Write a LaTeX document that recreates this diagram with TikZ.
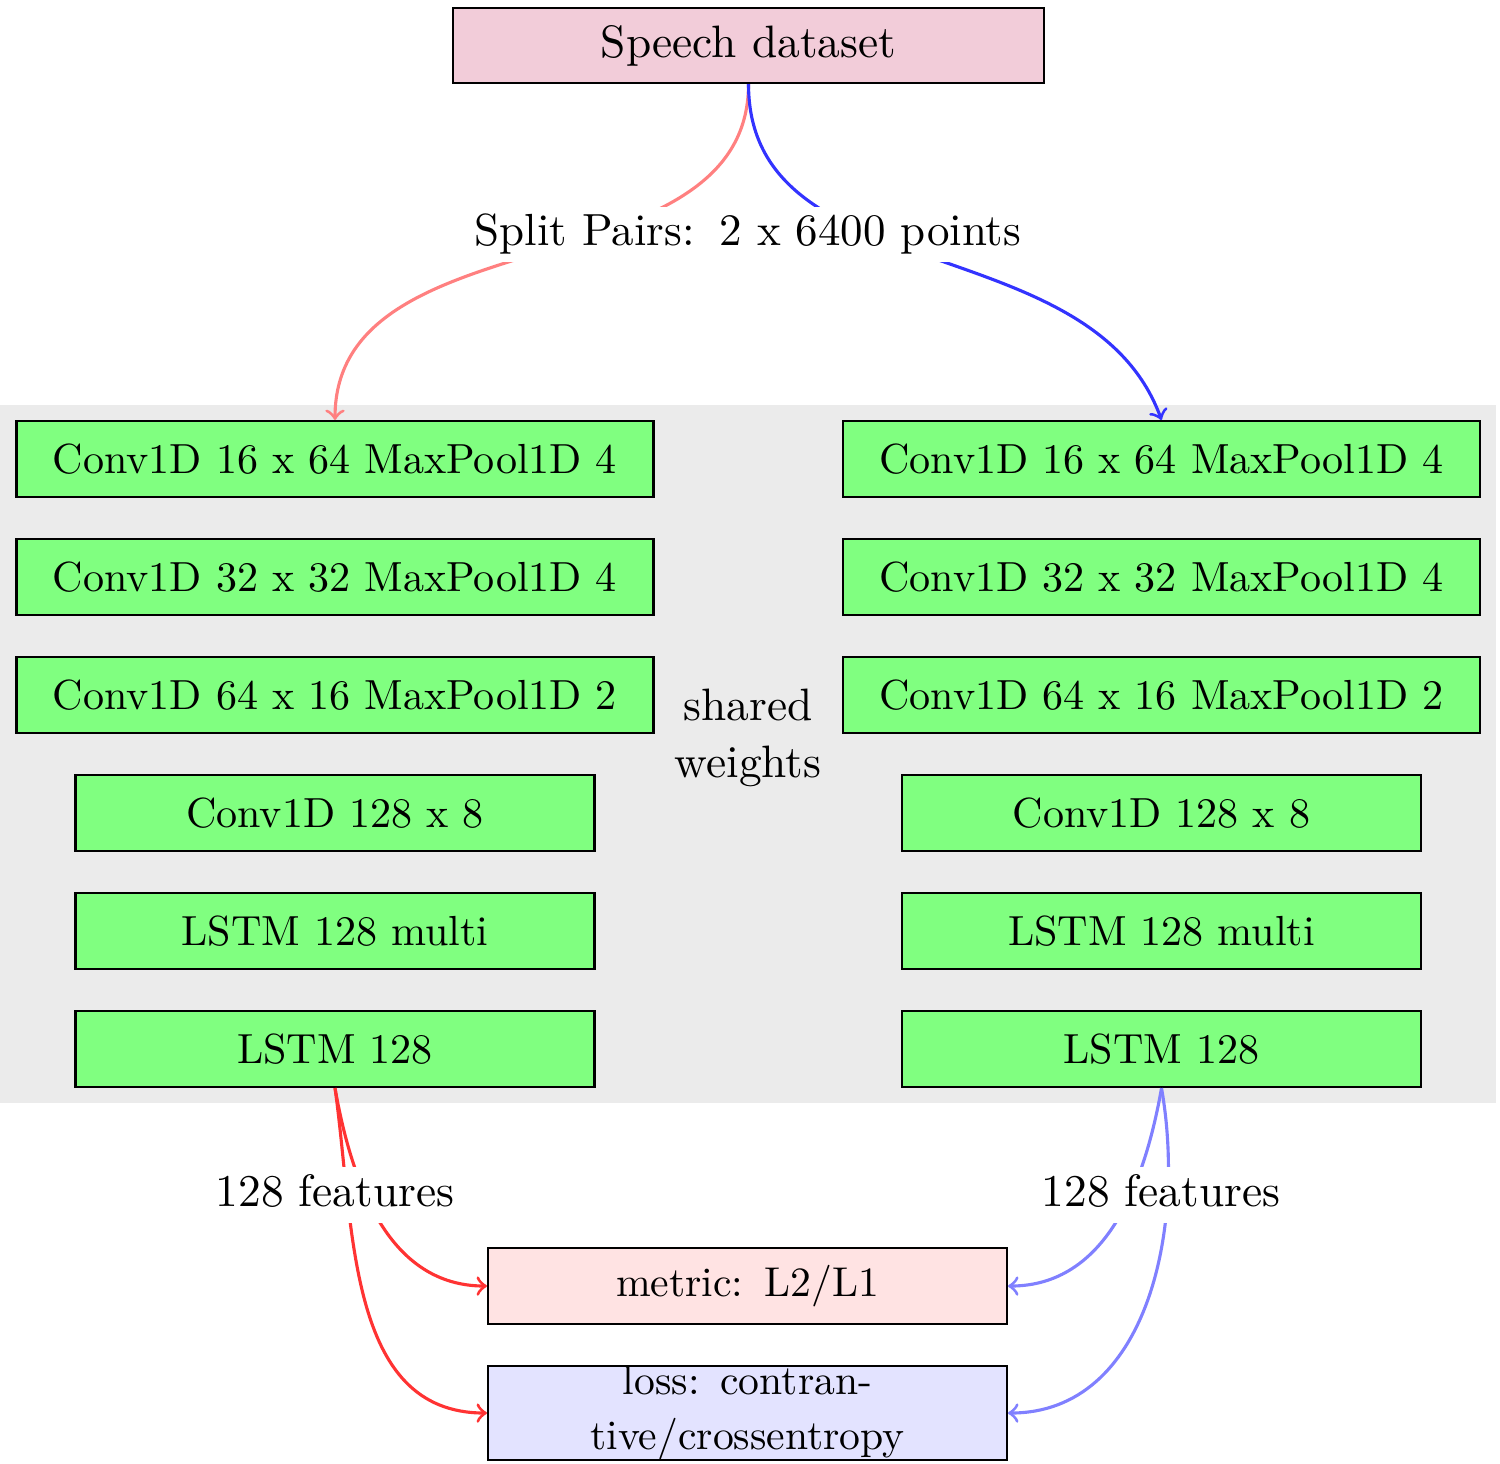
\documentclass[tikz,border=0pt]{standalone}
\usetikzlibrary{arrows}
\definecolor{bggray}{RGB}{235,235,235}
\begin{document}
\begin{tikzpicture}[x=0.24pt,y=0.24pt,
  lbl/.style={font=\fontsize{10.9}{13.6}\selectfont},
  cutlbl/.style={lbl,fill=white,inner xsep=3pt,inner ysep=1.7pt,text height=7.6pt,text depth=2.3pt},
  boxfont/.style={font=\fontsize{10.1}{12}\selectfont},
  layer/.style={draw=black,line width=0.5pt,fill=green!50,boxfont,inner sep=0pt,minimum height=18.24pt},
  wide/.style={layer,minimum width=152.88pt},
  narrow/.style={layer,minimum width=124.56pt},
  conn/.style={->,line width=0.75pt}
]
\useasboundingbox (0,0) rectangle (1500,-1463);
\fill[bggray] (0,-405) rectangle (1496,-1103);

\node[draw=black,line width=0.5pt,fill=purple!20,lbl,inner sep=0pt,minimum width=141.84pt,minimum height=18pt] (ds) at (748.5,-45.5) {Speech dataset};

\node[wide] (l1) at (335,-459) {Conv1D 16 x 64 MaxPool1D 4};
\node[wide] (l2) at (335,-577) {Conv1D 32 x 32 MaxPool1D 4};
\node[wide] (l3) at (335,-695) {Conv1D 64 x 16 MaxPool1D 2};
\node[narrow] (l4) at (335,-813) {Conv1D 128 x 8};
\node[narrow] (l5) at (335,-931) {LSTM 128 multi};
\node[narrow] (l6) at (335,-1049) {LSTM 128};

\node[wide] (r1) at (1161.5,-459) {Conv1D 16 x 64 MaxPool1D 4};
\node[wide] (r2) at (1161.5,-577) {Conv1D 32 x 32 MaxPool1D 4};
\node[wide] (r3) at (1161.5,-695) {Conv1D 64 x 16 MaxPool1D 2};
\node[narrow] (r4) at (1161.5,-813) {Conv1D 128 x 8};
\node[narrow] (r5) at (1161.5,-931) {LSTM 128 multi};
\node[narrow] (r6) at (1161.5,-1049) {LSTM 128};

\node[lbl,align=center,inner sep=0pt] (sw) at (748,-738) {shared\\weights};

\node[draw=black,line width=0.5pt,fill=red!11,font=\fontsize{10}{12}\selectfont,inner sep=0pt,minimum width=124.56pt,minimum height=18.24pt] (metric) at (747.5,-1286) {metric:\hspace{5pt}L2/L1};
\node[draw=black,line width=0.5pt,fill=blue!11,font=\fontsize{10}{13.2}\selectfont,align=center,inner sep=0pt,minimum width=124.56pt,minimum height=22.56pt] (loss) at (747.5,-1413) {loss:\hspace{5pt}contran-\\tive/crossentropy};

\draw[conn,red!50] (ds.south) to[out=-90,in=90] (l1.north);
\draw[conn,blue!80] (ds.south) to[out=-90,in=110] (r1.north);
\node[cutlbl,font=\fontsize{10.8}{13.6}\selectfont] (split) at (748,-234.5) {Split Pairs:\hspace{6pt}2 x 6400 points};

\draw[conn,red!80] (l6.south) to[out=-80,in=180] (metric.west);
\draw[conn,red!80] (l6.south) to[out=-82,in=180] (loss.west);
\draw[conn,blue!50] (r6.south) to[out=-100,in=0] (metric.east);
\draw[conn,blue!50] (r6.south) to[out=-80,in=0] (loss.east);
\node[cutlbl] (fl) at (335,-1195) {128 features};
\node[cutlbl] (fr) at (1161,-1195) {128 features};
\end{tikzpicture}
\end{document}
